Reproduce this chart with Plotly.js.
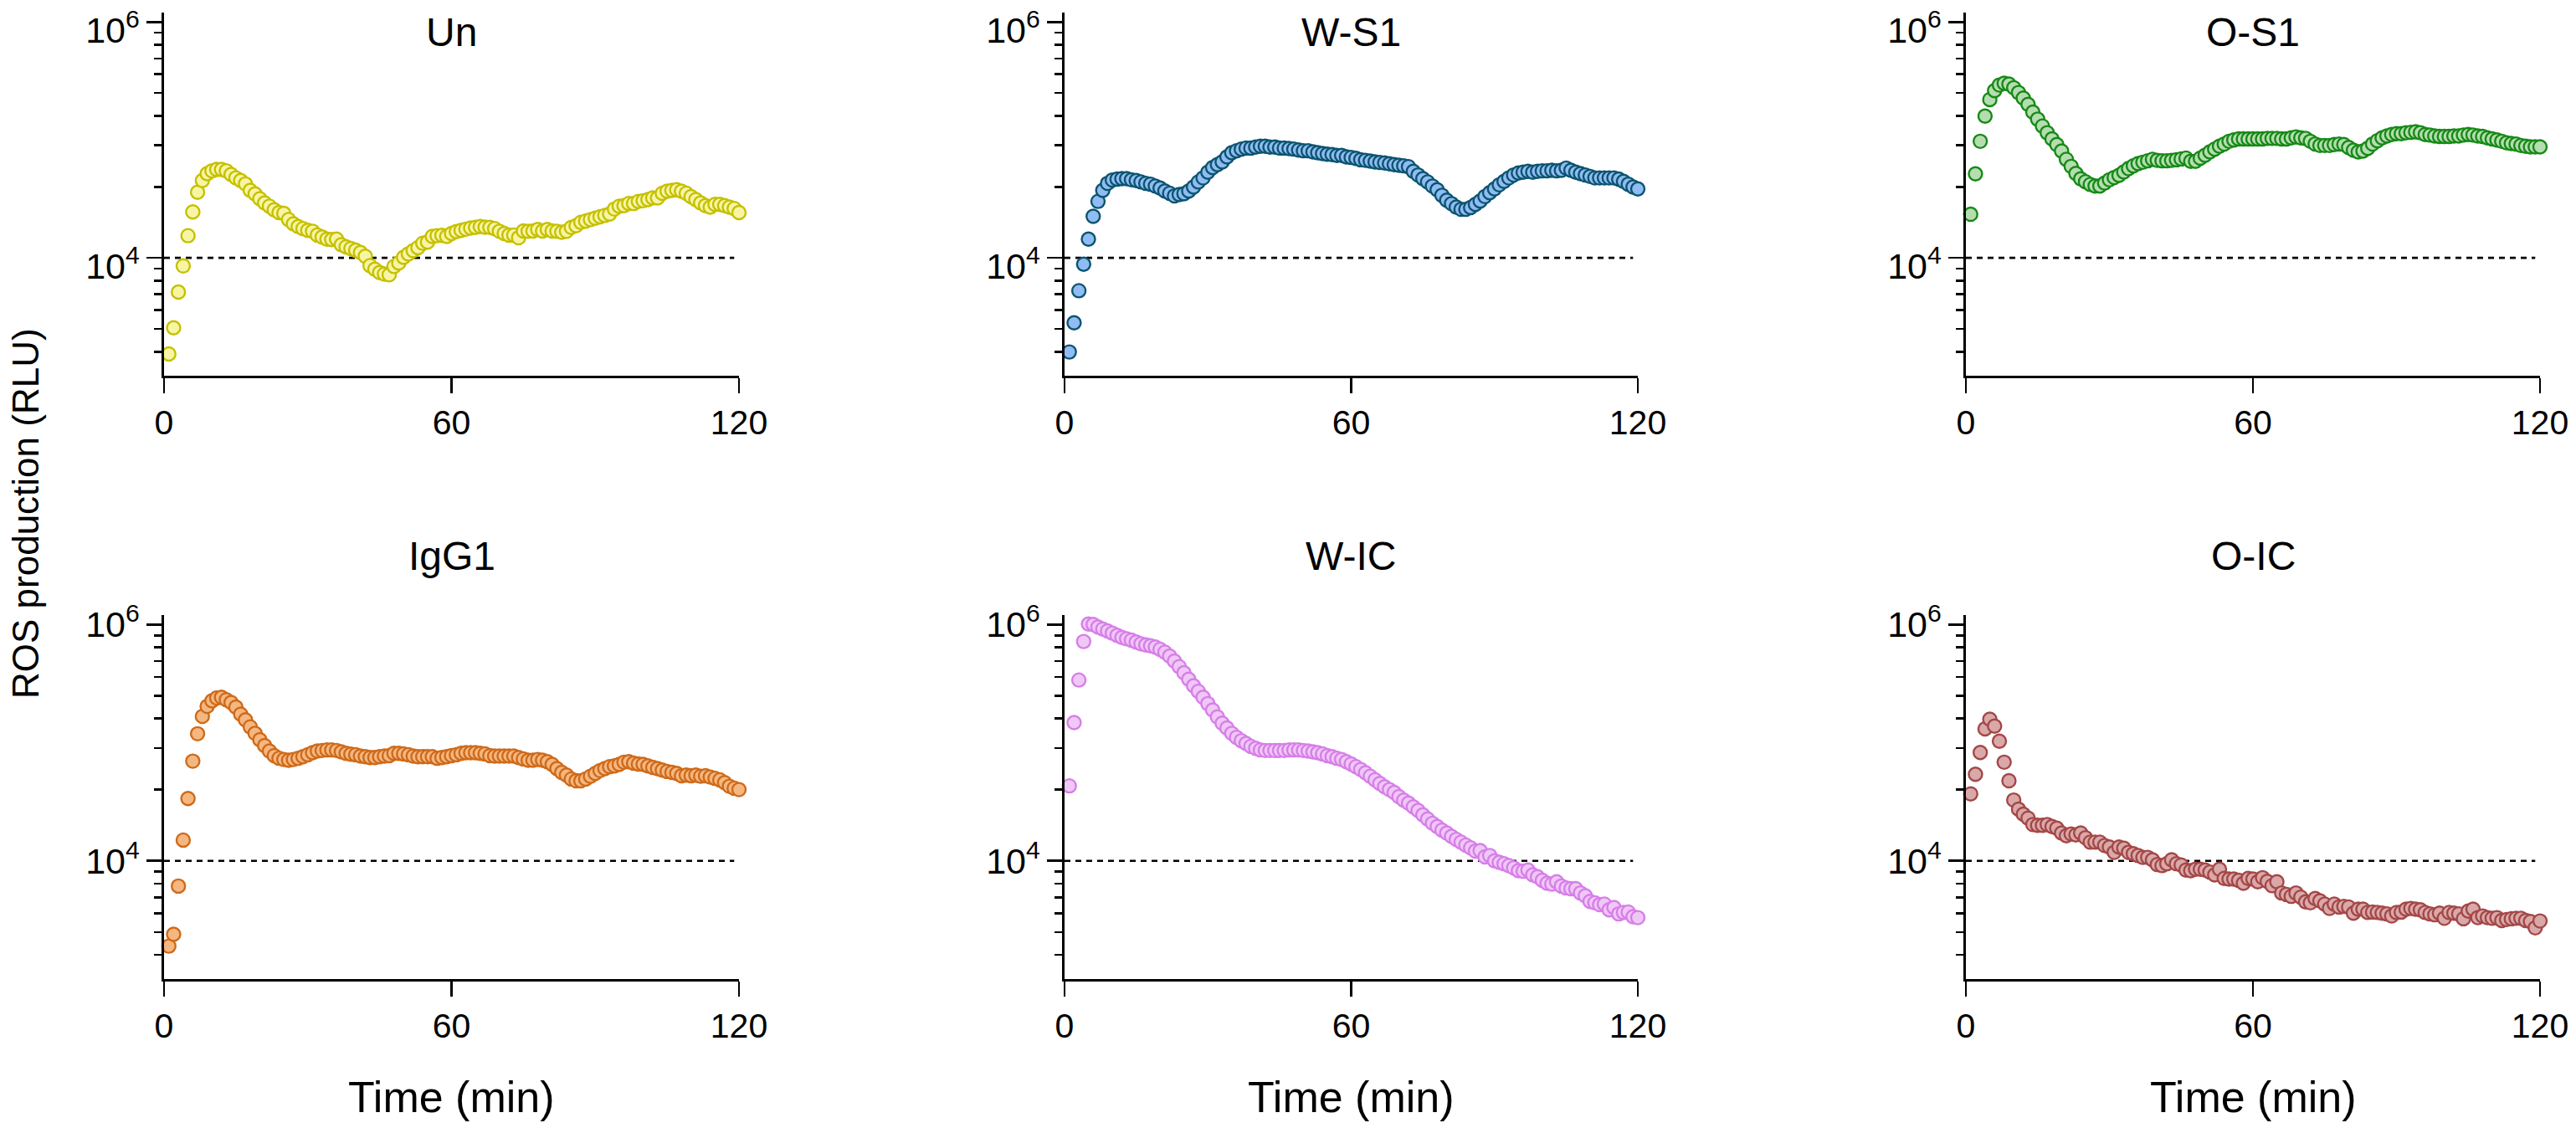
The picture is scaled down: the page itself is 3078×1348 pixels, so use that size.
<!DOCTYPE html>
<html>
<head>
<meta charset="utf-8">
<script src="https://cdn.plot.ly/plotly-3.0.1.min.js"></script>
<style>
html,body{margin:0;padding:0;background:#fff;}
#chart{width:3078px;height:1348px;}
</style>
</head>
<body>
<div id="chart"></div>
<script>
// ---------- data ----------
const timeMin = [1,2,3,4,5,6,7,8,9,10,11,12,13,14,15,16,17,18,19,20,21,22,23,24,25,26,27,28,29,30,
31,32,33,34,35,36,37,38,39,40,41,42,43,44,45,46,47,48,49,50,51,52,53,54,55,56,57,58,59,60,
61,62,63,64,65,66,67,68,69,70,71,72,73,74,75,76,77,78,79,80,81,82,83,84,85,86,87,88,89,90,
91,92,93,94,95,96,97,98,99,100,101,102,103,104,105,106,107,108,109,110,111,112,113,114,115,116,117,118,119,120];

const panelTitles = ["Un", "W-S1", "O-S1", "IgG1", "W-IC", "O-IC"];

const unRLU = [1530,2550,5120,8530,15400,24500,36000,45200,51800,54700,56100,56100,54700,50900,47600,45200,42300,37300,34800,31700,
29200,27400,25500,24200,23800,21100,19400,18400,17700,17100,16800,15600,15000,14400,14300,14400,12900,12400,12000,11600,
11100,10300,8590,8000,7500,7290,7180,8450,9060,10100,10800,11500,12200,13300,13600,15200,15400,15500,15200,16100,
16700,17100,17500,17900,18100,18400,18200,18100,17700,16800,16100,15600,15600,14800,16900,16800,16900,17400,16900,17400,
16900,16800,16500,16800,18100,18700,20000,20500,21100,21700,22300,22900,23500,25900,27400,27700,28900,28900,30100,30500,
31200,32200,32200,35300,36700,37300,37800,36700,35300,33000,31200,29200,27700,26900,28400,28400,27700,26900,26200,24200];

const ws1RLU = [1590,2810,5260,8830,14400,22500,30100,37300,42800,45700,46500,46900,46900,45900,45200,44000,42800,42100,40600,39000,
36900,35300,33500,34400,35000,36900,39800,44000,47600,53200,58300,61700,65000,71800,77800,80900,83600,85300,85300,86900,
88300,88300,86900,86900,85300,85300,84500,83600,82200,80900,80900,79100,77800,76600,75700,75000,73800,73800,71800,71000,
69800,67900,67100,66100,65000,64400,63700,62700,61700,61000,60300,59300,54100,50400,46900,44000,40600,37800,33900,30800,
28800,26900,25800,25800,26700,28400,30300,33100,35700,38400,41600,44500,47600,50400,52400,53200,54100,53200,54100,54700,
54700,55200,54700,55200,57700,55200,53200,51800,50400,49000,47600,47600,47600,47600,47600,46500,44500,42100,39800,38400];

const os1RLU = [23400,51500,97300,159000,220000,262000,292000,302000,297000,277000,252000,226000,200000,172000,150000,131000,115000,102000,91200,80400,
68400,59600,52000,46700,44200,41900,40700,40700,43100,45900,48000,50100,53500,57100,60300,63000,64700,66500,68400,67100,
66500,66500,67100,67900,69000,70100,65800,65800,70100,74100,79100,83600,88300,92300,97300,100000,102000,102000,102000,102000,
102000,102000,103000,103000,103000,102000,102000,104000,106000,104000,103000,97300,92300,89700,89700,89700,91200,92300,91200,86300,
81800,79100,80400,84900,92300,98400,104000,108000,111000,113000,113000,115000,116000,117000,115000,111000,110000,108000,107000,107000,
107000,108000,108000,110000,111000,110000,108000,107000,104000,102000,100000,97300,94600,93100,92300,89700,88300,87300,87300,87300];

const igg1RLU = [1900,2390,6120,15000,33700,69800,119000,167000,203000,226000,239000,242000,231000,219000,200000,174000,156000,136000,120000,106000,
94600,84900,77800,73800,72100,71000,72100,73800,76200,79100,82200,84900,85900,86900,86900,85900,83600,81300,80000,79100,
77100,76200,75000,75000,76200,77100,77800,81300,81300,80400,79100,77100,76200,76200,76200,76200,73800,75000,76200,77800,
79100,81300,82200,82200,82200,81300,80400,77800,77100,77100,77100,77100,77100,75000,72900,71000,71000,72100,71000,69000,
65500,60300,56100,53200,49300,47600,47600,49300,52000,55000,58100,60300,62700,63700,65500,68400,69000,67100,66100,65500,
63700,61900,60300,58600,57100,56100,55000,52600,53200,52600,53200,52000,52600,51200,49900,48500,45900,42800,41200,40100];

const wicRLU = [43100,148000,339000,718000,1010000,1000000,953000,916000,883000,845000,809000,778000,757000,738000,710000,687000,671000,661000,644000,617000,
583000,541000,490000,440000,390000,344000,303000,272000,242000,214000,189000,165000,146000,133000,120000,111000,104000,98400,93100,89700,
86900,85900,85900,85900,85900,85900,86900,86900,86900,85900,84900,83600,82200,80400,77800,76200,73800,72100,69000,66100,
62700,59300,55600,52000,48500,45200,42300,40100,37900,35000,32600,30800,28600,26700,24500,22600,20800,19500,18200,17200,
16100,15200,14400,13600,12900,12100,12200,10800,11100,10000,9730,9460,9120,8730,8260,8180,8360,7620,7330,6840,
6470,6370,6650,6120,5900,5810,5810,5350,5060,4540,4420,4260,4310,3850,4030,3560,3660,3690,3370,3310];

const oicRLU = [36900,54100,82600,131000,158000,138000,103000,68400,47600,32700,27400,24800,23000,20300,20000,20000,20300,19500,18900,17200,
16300,16900,16600,17200,15700,14400,14400,14400,13500,13100,11800,13100,12800,11800,11500,11100,10700,10700,10200,9310,
9120,9460,10200,9460,9230,8360,8260,8490,8490,8360,8040,7620,8490,7100,7020,7020,6840,6470,7100,7020,
6650,7210,6710,6170,6650,5350,5200,5010,5350,4930,4500,4420,4800,4590,4310,3960,4310,4070,4120,4070,
3610,3900,3900,3660,3690,3660,3610,3560,3420,3660,3690,3900,3960,3900,3850,3660,3560,3500,3610,3270,
3660,3610,3560,3240,3760,3900,3310,3420,3310,3270,3310,3130,3190,3240,3270,3270,3130,3070,2710,3100];

const referenceLevel = [10000, 10000];
const referenceTime = [0, 119];

const xTickVals = [0, 60, 120];
const xTickText = ["0", "60", "120"];
const yTickVals = [10000, 1000000];
const yTickText = ["10<sup>4</sup>", "10<sup>6</sup>"];
const yMinorVals = [1600, 2500, 3600, 4900, 6400, 8100,
                    40000, 90000, 160000, 250000, 360000, 490000, 640000, 810000];

// ---------- styles ----------
const seriesData = [unRLU, ws1RLU, os1RLU, igg1RLU, wicRLU, oicRLU];
const fillColors = ["#f6f5a4", "#8fbcf2", "#b5ddb0", "#f5b781", "#efc8f6", "#d9a9a9"];
const edgeColors = ["#c6c000", "#0c5470", "#168a16", "#cf6a19", "#d77ee9", "#a54747"];

const W = 3078, H = 1348;
const FONT = "Liberation Sans, Arial, Helvetica, sans-serif";
const colPx = [[196, 883], [1272, 1957], [2349, 3035]];
const rowPx = [[15, 449], [735, 1170]];
const titleCenterPx = [38, 664];
const yLabelShift = [10, 0];

const traces = [];
const layout = {
  width: W, height: H,
  margin: {l: 0, r: 0, t: 0, b: 0, pad: 0},
  paper_bgcolor: "#ffffff",
  plot_bgcolor: "rgba(0,0,0,0)",
  showlegend: false,
  font: {family: FONT, color: "#000000"},
  annotations: []
};

for (let i = 0; i < 6; i++) {
  const r = Math.floor(i / 3), c = i % 3;
  const n = i === 0 ? "" : String(i + 1);
  const xa = "x" + n, ya = "y" + n;

  traces.push({
    type: "scatter", mode: "lines",
    x: referenceTime, y: referenceLevel,
    xaxis: xa, yaxis: ya,
    line: {color: "#000000", width: 2.6, dash: "7px,6px"},
    hoverinfo: "skip", cliponaxis: false
  });
  traces.push({
    type: "scatter", mode: "markers",
    x: timeMin, y: seriesData[i],
    xaxis: xa, yaxis: ya,
    name: panelTitles[i],
    cliponaxis: false,
    marker: {symbol: "circle", size: 16, color: fillColors[i],
             line: {color: edgeColors[i], width: 2.4}}
  });

  layout["xaxis" + n] = {
    domain: [colPx[c][0] / W, colPx[c][1] / W],
    anchor: ya,
    range: [0, 120],
    tickmode: "array", tickvals: xTickVals, ticktext: xTickText,
    ticks: "outside", ticklen: 18, tickwidth: 2.6, tickcolor: "#000000",
    showline: true, linecolor: "#000000", linewidth: 2.6,
    showgrid: false, zeroline: false, fixedrange: true,
    ticklabeloverflow: "allow",
    tickfont: {family: FONT, size: 41, color: "#000000"}
  };
  layout["yaxis" + n] = {
    domain: [1 - rowPx[r][1] / H, 1 - rowPx[r][0] / H],
    anchor: xa,
    type: "log",
    range: [3, 6.08],
    tickmode: "array", tickvals: yTickVals, ticktext: yTickText,
    ticks: "outside", ticklen: 18, tickwidth: 2.6, tickcolor: "#000000",
    minor: {tickmode: "array", tickvals: yMinorVals, ticks: "outside",
            ticklen: 9, tickwidth: 2.6, tickcolor: "#000000", showgrid: false},
    showline: true, linecolor: "#000000", linewidth: 2.6,
    showgrid: false, zeroline: false, fixedrange: true,
    ticklabeloverflow: "allow",
    ticklabelshift: yLabelShift[r],
    tickfont: {family: FONT, size: 43, color: "#000000"}
  };

  const cx = (colPx[c][0] + colPx[c][1]) / 2 / W;
  layout.annotations.push({
    text: panelTitles[i], xref: "paper", yref: "paper",
    x: cx, y: 1 - titleCenterPx[r] / H, xanchor: "center", yanchor: "middle",
    showarrow: false, font: {family: FONT, size: 48, color: "#000000"}
  });
  if (r === 1) {
    layout.annotations.push({
      text: "Time (min)", xref: "paper", yref: "paper",
      x: cx, y: 1 - 1311 / H, xanchor: "center", yanchor: "middle",
      showarrow: false, font: {family: FONT, size: 52, color: "#000000"}
    });
  }
}

layout.annotations.push({
  text: "ROS production (RLU)", xref: "paper", yref: "paper",
  x: 30 / W, y: 1 - 614 / H, xanchor: "center", yanchor: "middle",
  textangle: -90, showarrow: false,
  font: {family: FONT, size: 44, color: "#000000"}
});

Plotly.newPlot("chart", traces, layout, {displayModeBar: false, staticPlot: true});
</script>
</body>
</html>
